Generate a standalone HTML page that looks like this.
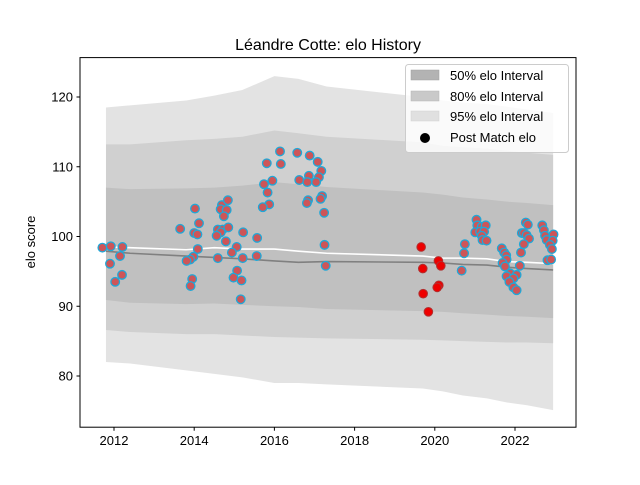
<!DOCTYPE html>
<html><head><meta charset="utf-8"><style>
body{margin:0;background:#fff;}
svg{font-family:"Liberation Sans","DejaVu Sans",sans-serif;}
</style></head><body>
<svg id="chart" width="640" height="480" viewBox="0 0 640 480">
<rect width="640" height="480" fill="#fff"/>
<text x="328" y="50" text-anchor="middle" font-size="16" fill="#000">Léandre Cotte: elo History</text>
<g id="bands"></g>
<g id="lines"></g>
<g id="points"></g>
<rect x="80" y="57.6" width="496" height="369.6" fill="none" stroke="#000" stroke-width="1"/>
<g id="xaxis"></g>
<g id="yaxis"></g>
<text transform="translate(35,242) rotate(-90)" text-anchor="middle" font-size="13">elo score</text>
<g>
<rect x="405.5" y="64.5" width="163" height="88" rx="3" fill="#fff" fill-opacity="0.8" stroke="#ccc"/>
<g><rect x="411" y="70" width="28" height="10" fill="#b3b3b3" stroke="#a0a0a0" stroke-width="0.5"/><text x="450" y="80" font-size="13">50% elo Interval</text></g>
<g><rect x="411" y="91" width="28" height="10" fill="#c9c9c9" stroke="#b5b5b5" stroke-width="0.5"/><text x="450" y="101" font-size="13">80% elo Interval</text></g>
<g><rect x="411" y="111" width="28" height="10" fill="#e0e0e0" stroke="#d0d0d0" stroke-width="0.5"/><text x="450" y="121" font-size="13">95% elo Interval</text></g>
<g><circle cx="425" cy="138" r="5" fill="#000"/><text x="450" y="142" font-size="13">Post Match elo</text></g>
</g>
</svg>
<script>
const bandYears=[2011.8,2012.4,2013.8,2014.5,2015.2,2016.0,2016.6,2017.3,2019.7,2020.2,2020.7,2021.3,2021.8,2022.3,2022.95];
const up95=[118.5,118.8,119.5,120.2,121.0,123.0,122.6,121.5,120.0,119.5,119.2,119.0,118.6,118.2,117.7];
const up80=[113.2,113.2,113.8,114.0,114.3,115.2,114.8,114.3,113.5,113.0,112.8,112.6,112.3,112.0,111.7];
const up50=[107.0,106.8,106.9,107.0,107.3,107.8,107.5,107.1,106.3,106.0,105.6,105.3,105.0,104.8,104.5];
const lo50=[90.9,90.5,90.3,90.4,90.2,90.0,89.9,89.6,89.3,89.2,89.0,88.8,88.6,88.5,88.3];
const lo80=[86.6,86.3,86.0,86.0,85.8,85.6,85.5,85.4,85.2,85.1,85.0,84.9,84.8,84.8,84.7];
const lo95=[82.0,81.8,80.8,80.3,79.8,79.0,79.0,78.8,78.2,77.8,77.2,76.8,76.2,75.8,75.1];
const meanVals=[97.9,97.6,97.2,97.0,96.8,96.5,96.3,96.4,96.3,96.2,96.0,95.9,95.6,95.4,95.2];
const postVals=[98.5,98.4,98.1,98.4,98.2,98.2,97.9,97.6,97.2,96.9,96.9,96.8,96.4,96.3,96.1];
const ptYears=[2011.71,2011.92,2012.21,2012.15,2011.90,2012.20,2012.03,2013.65,2014.02,2014.12,2014.00,2014.08,2014.09,2013.98,2013.90,2013.81,2013.95,2013.91,2014.69,2014.84,2014.66,2014.81,2014.74,2014.59,2014.71,2014.85,2014.66,2014.56,2014.79,2015.06,2014.94,2014.59,2015.22,2015.57,2015.21,2015.56,2015.07,2014.98,2015.18,2015.16,2016.14,2015.81,2016.16,2015.95,2015.74,2015.83,2015.87,2015.71,2016.57,2016.88,2017.08,2017.17,2016.86,2017.11,2016.62,2016.82,2017.04,2017.19,2017.15,2016.84,2016.81,2017.24,2017.25,2017.28,2020.75,2020.73,2020.67,2021.04,2021.06,2021.17,2021.27,2021.01,2021.13,2021.23,2021.17,2021.19,2021.29,2021.67,2021.73,2021.78,2021.79,2021.69,2021.75,2021.88,2021.79,2022.04,2021.96,2021.86,2021.96,2022.04,2022.12,2022.15,2022.27,2022.32,2022.17,2022.22,2022.29,2022.35,2022.22,2022.68,2022.72,2022.96,2022.75,2022.79,2022.94,2022.87,2022.92,2022.81,2022.90];
const ptVals=[98.4,98.6,98.5,97.2,96.1,94.5,93.5,101.1,104.0,101.9,100.5,100.3,98.2,97.1,96.7,96.5,93.9,92.9,104.5,105.2,103.9,103.8,102.9,101.0,101.0,101.3,100.6,100.1,99.3,98.5,97.7,96.9,100.6,99.8,96.9,97.2,95.1,94.1,93.7,91.0,112.2,110.5,110.4,108.0,107.5,106.3,104.6,104.2,112.0,111.6,110.7,109.4,108.7,108.5,108.1,107.8,107.8,105.8,105.4,105.2,104.8,103.4,98.8,95.8,98.9,97.6,95.1,102.4,101.6,101.4,101.6,100.6,100.7,100.7,100.1,99.5,99.4,98.3,97.7,97.3,96.7,96.2,95.7,94.7,94.3,94.5,94.0,93.5,92.7,92.3,95.8,97.7,102.0,101.7,100.5,100.5,100.2,99.7,98.9,101.6,100.9,100.3,100.1,99.5,99.4,98.8,98.2,96.6,96.7];
const redYears=[2019.66,2019.70,2020.09,2020.15,2019.71,2020.10,2020.06,2019.84];
const redVals=[98.5,95.4,96.5,95.8,91.8,93.0,92.7,89.2];
const xTicks=[2012,2014,2016,2018,2020,2022];
const yTicks=[80,90,100,110,120];

const NS="http://www.w3.org/2000/svg";
const sx=t=>114+(t-2012)*40.1;
const sy=v=>236.5-(v-100)*6.975;
function mk(tag,attrs,parent){const e=document.createElementNS(NS,tag);for(const k in attrs)e.setAttribute(k,attrs[k]);parent.appendChild(e);return e;}
function bandPath(up,lo){let d="";bandYears.forEach((t,i)=>{d+=(i?"L":"M")+sx(t)+","+sy(up[i]);});for(let i=bandYears.length-1;i>=0;i--)d+="L"+sx(bandYears[i])+","+sy(lo[i]);return d+"Z";}
function linePath(vals){return bandYears.map((t,i)=>(i?"L":"M")+sx(t)+","+sy(vals[i])).join("");}
const gb=document.getElementById("bands");
let e=mk("path",{d:bandPath(up95,lo95),fill:"#e3e3e3"},gb);


e=mk("path",{d:bandPath(up80,lo80),fill:"#d0d0d0"},gb);


e=mk("path",{d:bandPath(up50,lo50),fill:"#c0c0c0"},gb);


const gl=document.getElementById("lines");
e=mk("path",{d:linePath(meanVals),fill:"none",stroke:"#808080","stroke-width":1.6},gl);


e=mk("path",{d:linePath(postVals),fill:"none",stroke:"#fff","stroke-width":1.6},gl);


const gp=document.getElementById("points");
ptYears.forEach((t,i)=>{const c=mk("circle",{cx:sx(t),cy:sy(ptVals[i]),r:4.3,fill:"#cd5558",stroke:"#1fa8d8","stroke-width":1.3},gp);

});
redYears.forEach((t,i)=>{const c=mk("circle",{cx:sx(t),cy:sy(redVals[i]),r:4.3,fill:"#ee0000",stroke:"#b03030","stroke-width":1},gp);

});
const gx=document.getElementById("xaxis");
xTicks.forEach(t=>{const x=sx(t);
const l=mk("line",{x1:x,x2:x,y1:427.2,y2:430.7,stroke:"#000"},gx);


const tx=mk("text",{x:x,y:445,"text-anchor":"middle","font-size":13},gx);tx.textContent=t;

});
const gy=document.getElementById("yaxis");
yTicks.forEach(v=>{const y=sy(v);
const l=mk("line",{x1:76.5,x2:80,y1:y,y2:y,stroke:"#000"},gy);


const tx=mk("text",{x:73,y:y+4.5,"text-anchor":"end","font-size":13},gy);tx.textContent=v;

});
</script>
</body></html>
